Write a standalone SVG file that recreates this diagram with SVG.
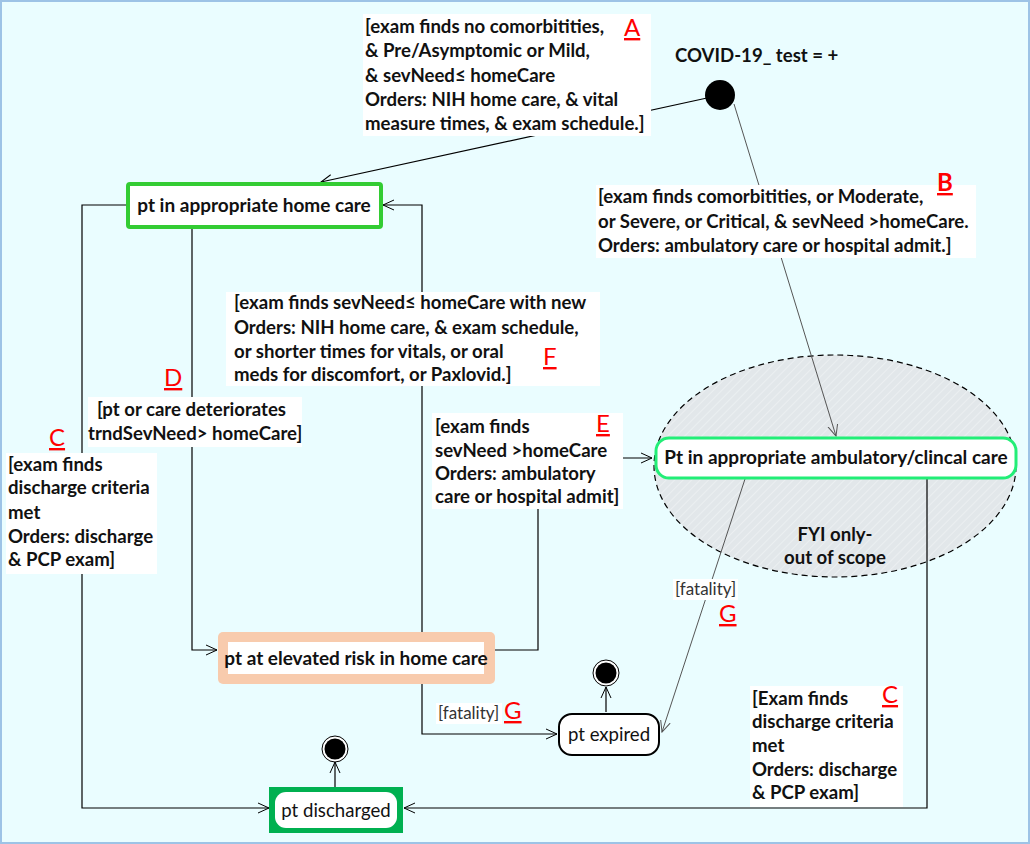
<svg xmlns="http://www.w3.org/2000/svg" width="1030" height="844" viewBox="0 0 1030 844">
<defs>
<style>
.t{font-family:Lato,"Liberation Sans",sans-serif;font-size:18.6px;font-weight:bold;fill:#111}
.n{font-family:Lato,"Liberation Sans",sans-serif;font-size:18.6px;fill:#111}
.nb{font-family:Lato,"Liberation Sans",sans-serif;font-size:19px;font-weight:bold;fill:#111}
.r{font-family:Lato,"Liberation Sans",sans-serif;font-size:24px;fill:#FF0000;text-decoration:underline}
.f{font-family:Lato,"Liberation Sans",sans-serif;font-size:17px;fill:#333}
.lb{fill:#FFFFFF}
.c{fill:none;stroke:#000;stroke-width:1.2}
.g{fill:none;stroke:#555;stroke-width:1}
</style>
<marker id="ar" viewBox="0 0 12 12" refX="11" refY="6" markerWidth="12" markerHeight="12" markerUnits="userSpaceOnUse" orient="auto">
<path d="M0,1 L11,6 L0,11" fill="none" stroke="#000" stroke-width="1"/>
</marker>
<marker id="arg" viewBox="0 0 12 12" refX="11" refY="6" markerWidth="12" markerHeight="12" markerUnits="userSpaceOnUse" orient="auto">
<path d="M0,1 L11,6 L0,11" fill="none" stroke="#555" stroke-width="1"/>
</marker>
<pattern id="hatch" width="6" height="6" patternUnits="userSpaceOnUse" patternTransform="rotate(45)">
<rect width="6" height="6" fill="#E2E7EA"/>
<line x1="0" y1="0" x2="0" y2="6" stroke="#F2F5F6" stroke-width="1.2"/>
</pattern>
</defs>
<rect x="1" y="1" width="1028" height="842" fill="#EAFDFF" stroke="#9DC3E6" stroke-width="2"/>

<g id="scope">
<ellipse cx="835" cy="466" rx="181" ry="111" fill="url(#hatch)" stroke="#000" stroke-width="1.2" stroke-dasharray="6,4"/>
<text class="t" x="835" y="541" text-anchor="middle">FYI only-</text>
<text class="t" x="835" y="564" text-anchor="middle">out of scope</text>
</g>

<g id="connectors">
<line class="c" x1="707" y1="98" x2="321" y2="182" marker-end="url(#ar)"/>
<line class="g" x1="734" y1="104" x2="836" y2="436" marker-end="url(#arg)"/>
<polyline class="c" points="127,205 82,205 82,808 269,808" marker-end="url(#ar)"/>
<polyline class="c" points="192,228 192,650 217,650" marker-end="url(#ar)"/>
<polyline class="c" points="422,632 422,205 383,205" marker-end="url(#ar)"/>
<polyline class="c" points="494,650 538,650 538,458 652,458" marker-end="url(#ar)"/>
<polyline class="c" points="422,684 422,734 557,734" marker-end="url(#ar)"/>
<line class="g" x1="745" y1="479" x2="662" y2="732" marker-end="url(#arg)"/>
<polyline class="c" points="927,479 927,808 404,808" marker-end="url(#ar)"/>
<line class="c" x1="606" y1="712" x2="606" y2="687" marker-end="url(#ar)"/>
<line class="c" x1="335" y1="787" x2="335" y2="762" marker-end="url(#ar)"/>
</g>

<g id="labels">
<rect class="lb" x="363" y="14" width="288" height="122"/>
<text class="t" x="365" y="33">[exam finds no comorbitities,</text>
<text class="t" x="365" y="57">&amp; Pre/Asymptomic or Mild,</text>
<text class="t" x="365" y="82">&amp; sevNeed≤ homeCare</text>
<text class="t" x="365" y="106">Orders: NIH home care, &amp; vital</text>
<text class="t" x="365" y="130">measure times, &amp; exam schedule.]</text>
<text class="r" x="624" y="36">A</text>

<text class="t" x="675" y="62">COVID-19_ test = +</text>

<rect class="lb" x="596" y="185" width="380" height="73"/>
<text class="t" x="598" y="203">[exam finds comorbitities, or Moderate,</text>
<text class="t" x="598" y="228">or Severe, or Critical, &amp; sevNeed &gt;homeCare.</text>
<text class="t" x="598" y="252">Orders: ambulatory care or hospital admit.]</text>
<text class="r" x="937" y="191" style="font-weight:bold">B</text>

<rect class="lb" x="226" y="292" width="374" height="94"/>
<text class="t" x="234" y="309">[exam finds sevNeed≤ homeCare with new</text>
<text class="t" x="234" y="334">Orders: NIH home care, &amp; exam schedule,</text>
<text class="t" x="234" y="358">or shorter times for vitals, or oral</text>
<text class="t" x="234" y="381">meds for discomfort, or Paxlovid.]</text>
<text class="r" x="543" y="365">F</text>

<rect class="lb" x="88" y="397" width="214" height="50"/>
<text class="t" x="97" y="416">[pt or care deteriorates</text>
<text class="t" x="88" y="440">trndSevNeed&gt; homeCare]</text>
<text class="r" x="164" y="386">D</text>

<rect class="lb" x="6" y="453" width="151" height="121"/>
<text class="t" x="8" y="471">[exam finds</text>
<text class="t" x="8" y="494">discharge criteria</text>
<text class="t" x="8" y="519">met</text>
<text class="t" x="8" y="543">Orders: discharge</text>
<text class="t" x="8" y="566">&amp; PCP exam]</text>
<text class="r" x="49" y="446">C</text>

<rect class="lb" x="432" y="413" width="191" height="96"/>
<text class="t" x="435" y="433">[exam finds</text>
<text class="t" x="435" y="457">sevNeed &gt;homeCare</text>
<text class="t" x="435" y="480">Orders: ambulatory</text>
<text class="t" x="435" y="503">care or hospital admit]</text>
<text class="r" x="596" y="432">E</text>

<rect class="lb" x="436" y="703" width="66" height="21"/>
<text class="f" x="438" y="719">[fatality]</text>
<text class="r" x="504" y="719">G</text>

<rect class="lb" x="673" y="579" width="65" height="21"/>
<text class="f" x="675" y="595">[fatality]</text>
<text class="r" x="719" y="622">G</text>

<rect class="lb" x="750" y="686" width="153" height="121"/>
<text class="t" x="752" y="705">[Exam finds</text>
<text class="t" x="752" y="728">discharge criteria</text>
<text class="t" x="752" y="752">met</text>
<text class="t" x="752" y="776">Orders: discharge</text>
<text class="t" x="752" y="799">&amp; PCP exam]</text>
<text class="r" x="882" y="703">C</text>
</g>

<g id="start">
<circle cx="720" cy="95" r="15" fill="#000"/>
</g>

<g id="homecare">
<rect x="128" y="184" width="253" height="43" rx="2" fill="#FFF" stroke="#33CC33" stroke-width="4"/>
<text class="nb" x="254" y="212" text-anchor="middle">pt in appropriate home care</text>
</g>

<g id="ambulatory">
<rect x="656" y="438" width="360" height="40" rx="13" fill="#FFF" stroke="#22EE77" stroke-width="3"/>
<text class="nb" x="836" y="464" text-anchor="middle">Pt in appropriate ambulatory/clincal care</text>
</g>

<g id="elevated">
<rect x="218" y="632" width="277" height="52" rx="5" fill="#F8CBAD"/>
<rect x="228" y="642" width="256" height="32" fill="#FFF"/>
<text class="nb" x="356" y="665" text-anchor="middle">pt at elevated risk in home care</text>
</g>

<g id="expired">
<rect x="559" y="714" width="100" height="41" rx="13" fill="#FFF" stroke="#000" stroke-width="2"/>
<text class="n" x="609" y="741" text-anchor="middle">pt expired</text>
</g>

<g id="end1">
<circle cx="606" cy="673" r="13" fill="#FFF" stroke="#000" stroke-width="1"/>
<circle cx="606" cy="673" r="10.5" fill="#000"/>
</g>

<g id="discharged">
<rect x="269" y="787" width="134" height="46" fill="#00B050"/>
<rect x="275" y="792" width="122" height="36" rx="11" fill="#FFF"/>
<text class="n" x="336" y="817" text-anchor="middle">pt discharged</text>
</g>

<g id="end2">
<circle cx="335" cy="749" r="13" fill="#FFF" stroke="#000" stroke-width="1"/>
<circle cx="335" cy="749" r="10.5" fill="#000"/>
</g>
</svg>
